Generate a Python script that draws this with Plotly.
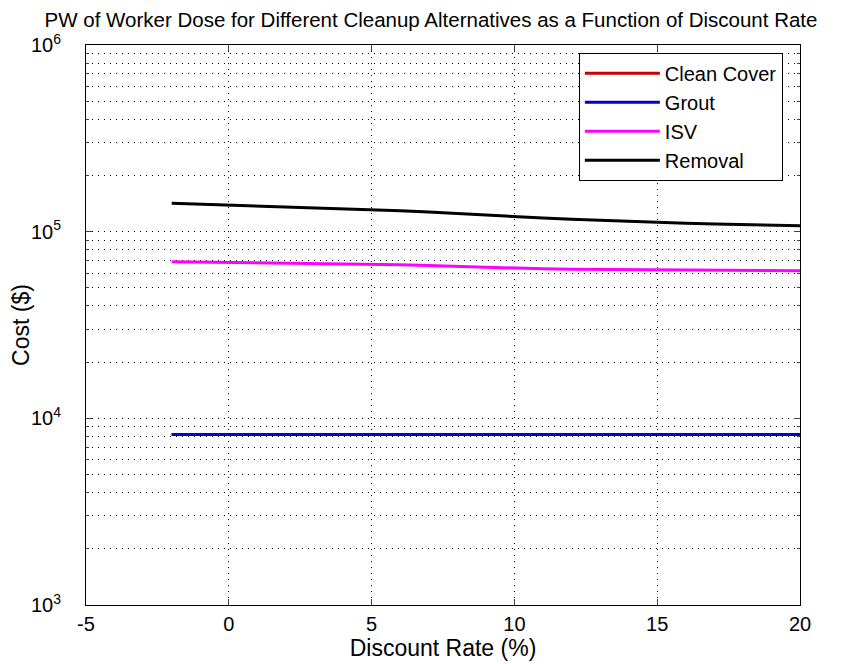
import plotly.graph_objects as go

# discount rate (%)
rate = [-2, -1, 0, 1, 2, 3, 4, 5, 6, 7, 8, 9, 10, 11, 12, 13, 14, 15, 16, 17, 18, 19, 20]

# present worth of worker dose ($)
clean_cover = [8200] * 23
grout = [8200] * 23
isv = [69000, 68700, 68400, 68100, 67900, 67700, 67500, 67200, 66500, 65800, 65100, 64300,
       63500, 63200, 62900, 62700, 62500, 62300, 62100, 62000, 61900, 61800, 61700]
removal = [142000, 140500, 139000, 137500, 136000, 134500, 133000, 131500, 129500, 127500,
           125000, 122500, 120000, 118300, 116700, 115100, 113600, 112200, 111000, 110000,
           109000, 108200, 107500]

x_ticks = [-5, 0, 5, 10, 15, 20]
x_text = ["-5", "0", "5", "10", "15", "20"]
y_ticks = [1e3, 1e4, 1e5, 1e6]
y_text = ["10<sup>3</sup>", "10<sup>4</sup>", "10<sup>5</sup>", "10<sup>6</sup>"]

series = [
    ("Clean Cover", clean_cover, "#cc0000"),
    ("Grout", grout, "#0000cc"),
    ("ISV", isv, "#ff00ff"),
    ("Removal", removal, "#000000"),
]

fig = go.Figure()
for name, vals, col in series:
    fig.add_trace(go.Scatter(x=rate, y=vals, name=name, mode="lines",
                             line=dict(color=col, width=3)))

font = "Liberation Sans, Arial, sans-serif"
dots = "1px,5px"

# the page body adds an 8px offset, so margins are shifted to compensate
fig.update_layout(
    width=846, height=664,
    margin=dict(l=78, r=54, t=37, b=67),
    paper_bgcolor="white", plot_bgcolor="white",
    font=dict(family=font, size=19, color="black"),
    title=dict(text="PW of Worker Dose for Different Cleanup Alternatives as a Function of Discount Rate",
               x=0.5, xanchor="center", y=0.982, yanchor="middle",
               automargin=False, font=dict(size=20.5)),
    legend=dict(x=0.976, xanchor="right", y=0.986, yanchor="top",
                bordercolor="black", borderwidth=1, bgcolor="white",
                itemwidth=75, font=dict(size=20)),
)

fig.update_xaxes(
    range=[-5, 20], tickvals=x_ticks, ticktext=x_text, ticks="inside", ticklen=6,
    showline=True, linecolor="black", linewidth=1, mirror="ticks",
    showgrid=True, gridcolor="black", gridwidth=1, griddash=dots,
    zeroline=False, automargin=False, ticklabelstandoff=1,
    tickfont=dict(size=20),
    title=dict(text="Discount Rate (%)", standoff=5),
)

fig.update_yaxes(
    type="log", range=[3, 6], tickvals=y_ticks, ticktext=y_text,
    ticks="inside", ticklen=6,
    showline=True, linecolor="black", linewidth=1, mirror="ticks",
    showgrid=True, gridcolor="black", gridwidth=1, griddash=dots,
    minor=dict(ticks="inside", ticklen=3, showgrid=True, gridcolor="black",
               gridwidth=1, griddash=dots, dtick="D1"),
    zeroline=False, automargin=False, ticklabelstandoff=20,
    tickfont=dict(size=20),
    title=dict(text="Cost ($)", standoff=0),
)

fig.write_html("out.html")
